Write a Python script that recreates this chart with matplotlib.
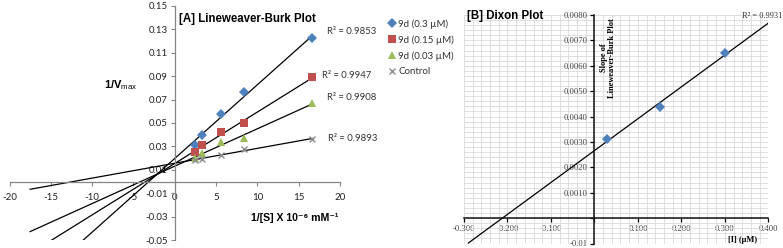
import numpy as np
import matplotlib
matplotlib.use('Agg')
import matplotlib.pyplot as plt
from matplotlib.ticker import MultipleLocator

plt.rcParams['mathtext.fontset'] = 'custom'
plt.rcParams['mathtext.rm'] = 'Liberation Sans'

# ---- data: [A] Lineweaver-Burk ----
inv_s = [2.5, 3.33, 5.56, 8.33, 16.67]
series_names = ['9d (0.3 µM)', '9d (0.15 µM)', '9d (0.03 µM)', 'Control']
inv_v_03 = [0.031, 0.040, 0.058, 0.0765, 0.1223]
inv_v_015 = [0.025, 0.031, 0.042, 0.050, 0.089]
inv_v_003 = [0.020, 0.024, 0.034, 0.037, 0.0668]
inv_v_ctrl = [0.0184, 0.0195, 0.0226, 0.0275, 0.0363]
r2_labels_a = ['R² = 0.9853', 'R² = 0.9947', 'R² = 0.9908', 'R² = 0.9893']

# ---- data: [B] Dixon ----
conc_i = [0.03, 0.15, 0.30]
lb_slope = [0.00313, 0.00437, 0.0065]
r2_label_b = 'R² = 0.9931'

colors = ['#4F81BD', '#C0504D', '#9BBB59', '#8C8C8C']
markers = ['D', 's', '^', 'x']
msizes = [5, 6, 5.5, 5]

W, H = 783, 248
fig = plt.figure(figsize=(W / 100, H / 100), dpi=100)

def px(x, y):
    return x / W, 1 - y / H

# ================= panel A =================
axA = fig.add_axes([9.5 / W, 8 / H, (340 - 9.5) / W, (240 - 6) / H])
axA.set_xlim(-20, 20)
axA.set_ylim(-0.05, 0.15)
axA.patch.set_alpha(0)
for s in ['top', 'right']:
    axA.spines[s].set_visible(False)
axA.spines['left'].set_position(('data', 0))
axA.spines['bottom'].set_position(('data', 0))
for s in ['left', 'bottom']:
    axA.spines[s].set_color('#868686')
    axA.spines[s].set_linewidth(0.9)
axA.set_xticks(np.arange(-20, 21, 5))
axA.set_xticklabels([str(v) for v in range(-20, 21, 5)])
yt = np.arange(-0.05, 0.151, 0.02)
axA.set_yticks(yt)
axA.set_yticklabels(['%.2f' % v for v in yt])
axA.tick_params(direction='out', length=3, width=0.8, color='#868686',
                labelsize=7, labelcolor='#222222', pad=2)
axA.tick_params(axis='x', pad=5)
for lab in axA.get_xticklabels() + axA.get_yticklabels():
    lab.set_family('Lato')

all_a = [inv_v_03, inv_v_015, inv_v_003, inv_v_ctrl]
x = np.array(inv_s)
for vals, name, c, m, ms in zip(all_a, series_names, colors, markers, msizes):
    y = np.array(vals)
    k, b = np.polyfit(x, y, 1)
    xl = np.array([x.min() - 20, x.max()])
    axA.plot(xl, k * xl + b, color='black', lw=0.9, zorder=2)
    if m == 'x':
        axA.plot(x, y, linestyle='none', marker=m, color=c, ms=ms, mew=1.0,
                 label=name, zorder=3)
    else:
        axA.plot(x, y, linestyle='none', marker=m, color=c, ms=ms, mew=0,
                 label=name, zorder=3)

axA.text(0.5, 0.1390, '[A] Lineweaver-Burk Plot', fontsize=8.3, fontweight='bold',
         family='Liberation Sans', va='center', ha='left')
r2_pos_a = [(18.4, 0.1285), (17.8, 0.0905), (18.4, 0.0715), (18.5, 0.0370)]
for (tx, ty), t in zip(r2_pos_a, r2_labels_a):
    axA.text(tx, ty, t, fontsize=6.8, family='Lato', color='#333333',
             va='center', ha='left')

fig.text(*px(104, 85), '1/V$_{\\rm max}$', fontsize=8, fontweight='bold',
         family='Liberation Sans', va='center', ha='left')
fig.text(*px(251, 218), '1/[S] X 10⁻⁶ mM⁻¹', fontsize=7.6, fontweight='bold',
         family=['Liberation Sans', 'DejaVu Sans'], va='center', ha='left')

handles, labels = axA.get_legend_handles_labels()
leg = fig.legend(handles, labels, loc='upper left', bbox_to_anchor=px(389, 19),
                 frameon=False, prop={'family': 'Lato', 'size': 7},
                 handlelength=0.6, handletextpad=0.35, labelspacing=0.68,
                 borderaxespad=0, borderpad=0)
for t in leg.get_texts():
    t.set_color('#333333')

# ================= panel B =================
axB = fig.add_axes([464 / W, (H - 243.5) / H, (768.3 - 464) / W, (243.5 - 15) / H])
axB.set_xlim(-0.3, 0.4)
axB.set_ylim(-0.001, 0.008)
for s in ['top', 'right']:
    axB.spines[s].set_visible(False)
axB.spines['left'].set_position(('data', 0))
axB.spines['bottom'].set_position(('data', 0))
for s in ['left', 'bottom']:
    axB.spines[s].set_color('#111111')
    axB.spines[s].set_linewidth(1.1)
axB.xaxis.set_minor_locator(MultipleLocator(0.02))
axB.yaxis.set_minor_locator(MultipleLocator(0.0002))
axB.grid(which='both', color='#D9D9D9', lw=0.6)
axB.set_axisbelow(True)
xtB = np.arange(-0.3, 0.401, 0.1)
axB.set_xticks(xtB)
axB.set_xticklabels(['' if abs(v) < 1e-9 else '%.3f' % v for v in xtB])
ytB = np.arange(-0.001, 0.0081, 0.001)
axB.set_yticks(ytB)
ylabB = []
for v in ytB:
    if abs(v) < 1e-9:
        ylabB.append('')
    elif v < 0:
        ylabB.append('-0.01')
    else:
        ylabB.append('%.4f' % v)
axB.set_yticklabels(ylabB)
axB.tick_params(which='major', direction='out', length=3, width=0.9,
                labelsize=6.2, labelcolor='#444444', pad=2)
axB.tick_params(which='minor', length=0)
for lab in axB.get_xticklabels() + axB.get_yticklabels():
    lab.set_family('Liberation Serif')

xb = np.array(conc_i)
yb = np.array(lb_slope)
kb, bb = np.polyfit(xb, yb, 1)
xlb = np.array([-0.29, 0.40])
axB.plot(xlb, kb * xlb + bb, color='black', lw=0.9, zorder=2)
axB.plot(xb, yb, linestyle='none', marker='D', color=colors[0], ms=5.5, mew=0,
         zorder=3)

fig.text(*px(467, 16), '[B] Dixon Plot', fontsize=8.3, fontweight='bold',
         family='Liberation Sans', va='center', ha='left')
fig.text(*px(782, 16), r2_label_b, fontsize=6, family='Liberation Serif',
         color='#333333', va='center', ha='right')
fig.text(*px(608, 58), 'Slope of\nLineweaver-Burk Plot', fontsize=6,
         fontweight='bold', family='Liberation Serif', rotation=90,
         va='center', ha='center', multialignment='center', linespacing=1.0)
fig.text(*px(743, 240), '[I] (µM)', fontsize=6, fontweight='bold',
         family='Liberation Serif', va='center', ha='center')

fig.savefig('out.png', dpi=100)
